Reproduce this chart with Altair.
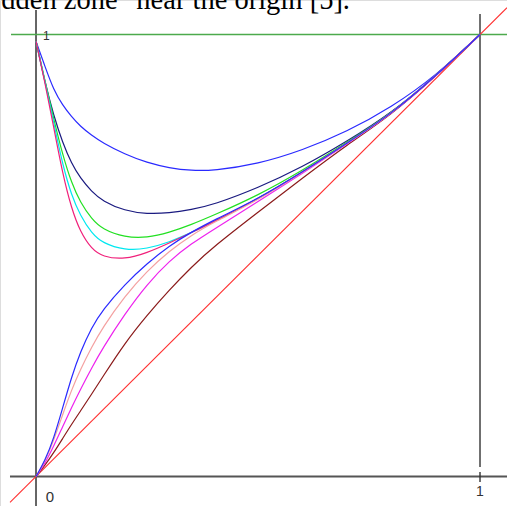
import altair as alt
import pandas as pd

# Sample abscissae shared by every curve
X_GRID = [0, 0.02, 0.04, 0.06, 0.08, 0.10, 0.125, 0.15, 0.2, 0.25, 0.3,
          0.35, 0.4, 0.5, 0.6, 0.7, 0.8, 0.9, 1.0]

# Curves that start at (0, 1), dip, and climb back to (1, 1)
DIP_BLUE = [0.985, 0.928, 0.874, 0.840, 0.814, 0.792, 0.772, 0.755, 0.729, 0.710,
            0.698, 0.692, 0.692, 0.707, 0.738, 0.780, 0.835, 0.906, 1.0]
DIP_NAVY = [0.985, 0.892, 0.816, 0.755, 0.708, 0.675, 0.645, 0.623, 0.601, 0.594,
            0.596, 0.604, 0.615, 0.653, 0.700, 0.758, 0.822, 0.906, 1.0]
DIP_GREEN = [0.985, 0.896, 0.808, 0.728, 0.664, 0.620, 0.583, 0.559, 0.541, 0.540,
             0.552, 0.570, 0.591, 0.636, 0.692, 0.756, 0.821, 0.906, 1.0]
DIP_CYAN = [0.985, 0.895, 0.800, 0.705, 0.636, 0.590, 0.551, 0.528, 0.512, 0.515,
            0.530, 0.552, 0.576, 0.628, 0.689, 0.754, 0.820, 0.906, 1.0]
DIP_CRIMSON = [0.985, 0.892, 0.790, 0.685, 0.606, 0.553, 0.515, 0.497, 0.491, 0.506,
               0.528, 0.552, 0.576, 0.628, 0.689, 0.754, 0.820, 0.906, 1.0]

# Curves that start at the origin and rise to (1, 1)
RISE_BLUE = [0, 0.035, 0.086, 0.155, 0.225, 0.282, 0.337, 0.377, 0.435, 0.482,
             0.522, 0.553, 0.580, 0.628, 0.689, 0.754, 0.820, 0.906, 1.0]
RISE_SALMON = [0, 0.033, 0.082, 0.140, 0.196, 0.242, 0.292, 0.337, 0.408, 0.465,
               0.510, 0.546, 0.575, 0.625, 0.688, 0.753, 0.820, 0.906, 1.0]
RISE_MAGENTA = [0, 0.029, 0.069, 0.113, 0.156, 0.197, 0.245, 0.290, 0.368, 0.435,
                0.488, 0.527, 0.559, 0.622, 0.686, 0.752, 0.819, 0.905, 1.0]
RISE_BROWN = [0, 0.025, 0.054, 0.086, 0.118, 0.148, 0.186, 0.225, 0.302, 0.365,
              0.422, 0.474, 0.520, 0.598, 0.675, 0.750, 0.818, 0.905, 1.0]

CURVES = {
    "dip_blue": (DIP_BLUE, "#2a2aff"),
    "dip_navy": (DIP_NAVY, "#1a1a80"),
    "dip_green": (DIP_GREEN, "#22e022"),
    "dip_cyan": (DIP_CYAN, "#00e8f0"),
    "dip_crimson": (DIP_CRIMSON, "#f0207a"),
    "rise_brown": (RISE_BROWN, "#8b1a1a"),
    "rise_magenta": (RISE_MAGENTA, "#ee22ee"),
    "rise_salmon": (RISE_SALMON, "#f4a0a0"),
    "rise_blue": (RISE_BLUE, "#2a2aff"),
}

# Visible window in data units
X_DOMAIN = [-0.0811, 1.0608]
Y_DOMAIN = [-0.0667, 1.0781]

rows = []
for order, (name, (vals, _)) in enumerate(CURVES.items()):
    for xv, yv in zip(X_GRID, vals):
        rows.append({"curve": name, "order": order, "x": xv, "y": yv})
curves_df = pd.DataFrame(rows)

names = list(CURVES.keys())
colors = [c for _, c in CURVES.values()]

xs = alt.Scale(domain=X_DOMAIN, nice=False, zero=False)
ys = alt.Scale(domain=Y_DOMAIN, nice=False, zero=False)

# Reference lines: axes, the x = 1 guide, the y = 1 level
rules_df = pd.DataFrame([
    {"x": 0.0, "x2": 0.0, "y": -0.0667, "y2": 1.0554, "c": "#555555", "w": 1.8},
    {"x": -0.0586, "x2": 1.0608, "y": 0.0, "y2": 0.0, "c": "#555555", "w": 1.8},
    {"x": 1.0, "x2": 1.0, "y": 0.0215, "y2": 1.0464, "c": "#333333", "w": 1.4},
    {"x": 1.0, "x2": 1.0, "y": -0.0124, "y2": 0.0102, "c": "#333333", "w": 1.4},
    {"x": -0.0563, "x2": 1.0608, "y": 1.0, "y2": 1.0, "c": "#4daa4d", "w": 1.6},
])
rules = alt.Chart(rules_df).mark_rule().encode(
    x=alt.X("x:Q", scale=xs, axis=None),
    x2="x2:Q",
    y=alt.Y("y:Q", scale=ys, axis=None),
    y2="y2:Q",
    color=alt.Color("c:N", scale=None),
    strokeWidth=alt.StrokeWidth("w:Q", scale=None),
)

# The diagonal y = x across the whole window
diag_df = pd.DataFrame({"x": [-0.0586, 1.0608], "y": [-0.0586, 1.0608]})
diagonal = alt.Chart(diag_df).mark_line(color="#ff3030", strokeWidth=1.1, clip=True).encode(
    x=alt.X("x:Q", scale=xs, axis=None),
    y=alt.Y("y:Q", scale=ys, axis=None),
)

lines = alt.Chart(curves_df).mark_line(interpolate="basis", strokeWidth=1.2).encode(
    x=alt.X("x:Q", scale=xs, axis=None),
    y=alt.Y("y:Q", scale=ys, axis=None),
    color=alt.Color("curve:N", scale=alt.Scale(domain=names, range=colors), legend=None),
    order="order:Q",
)

# Tick labels
labels_df = pd.DataFrame([
    {"x": 0.0, "y": 1.0, "t": "1", "dx": 7, "dy": 5, "s": 12},
    {"x": 0.0, "y": 0.0, "t": "0", "dx": 14, "dy": 25, "s": 15},
    {"x": 1.0, "y": 0.0, "t": "1", "dx": 0, "dy": 19, "s": 14},
])
label_layers = [
    alt.Chart(labels_df.iloc[[i]]).mark_text(
        font="Liberation Sans", fontSize=float(r.s), color="#333333",
        baseline="alphabetic", align="left" if i == 0 else "center",
        dx=float(r.dx), dy=float(r.dy),
    ).encode(
        x=alt.X("x:Q", scale=xs, axis=None),
        y=alt.Y("y:Q", scale=ys, axis=None),
        text="t:N",
    )
    for i, r in enumerate(labels_df.itertuples())
]

# Running text above the figure, cut off by the top edge
caption = alt.Chart(pd.DataFrame({"t": ['dden zone" near the origin [5].']})).mark_text(
    font="Liberation Serif", fontSize=28.5, color="#000000",
    align="right", baseline="alphabetic",
).encode(x=alt.value(350), y=alt.value(8.5), text="t:N")

chart = alt.layer(
    rules, diagonal, lines, *label_layers, caption
).properties(
    width=507, height=506, padding=0, autosize=alt.AutoSizeParams(type="none"),
).configure_view(strokeWidth=0).configure(background="#ffffff")

chart.save("out.html", embed_options={"renderer": "svg", "actions": False})
